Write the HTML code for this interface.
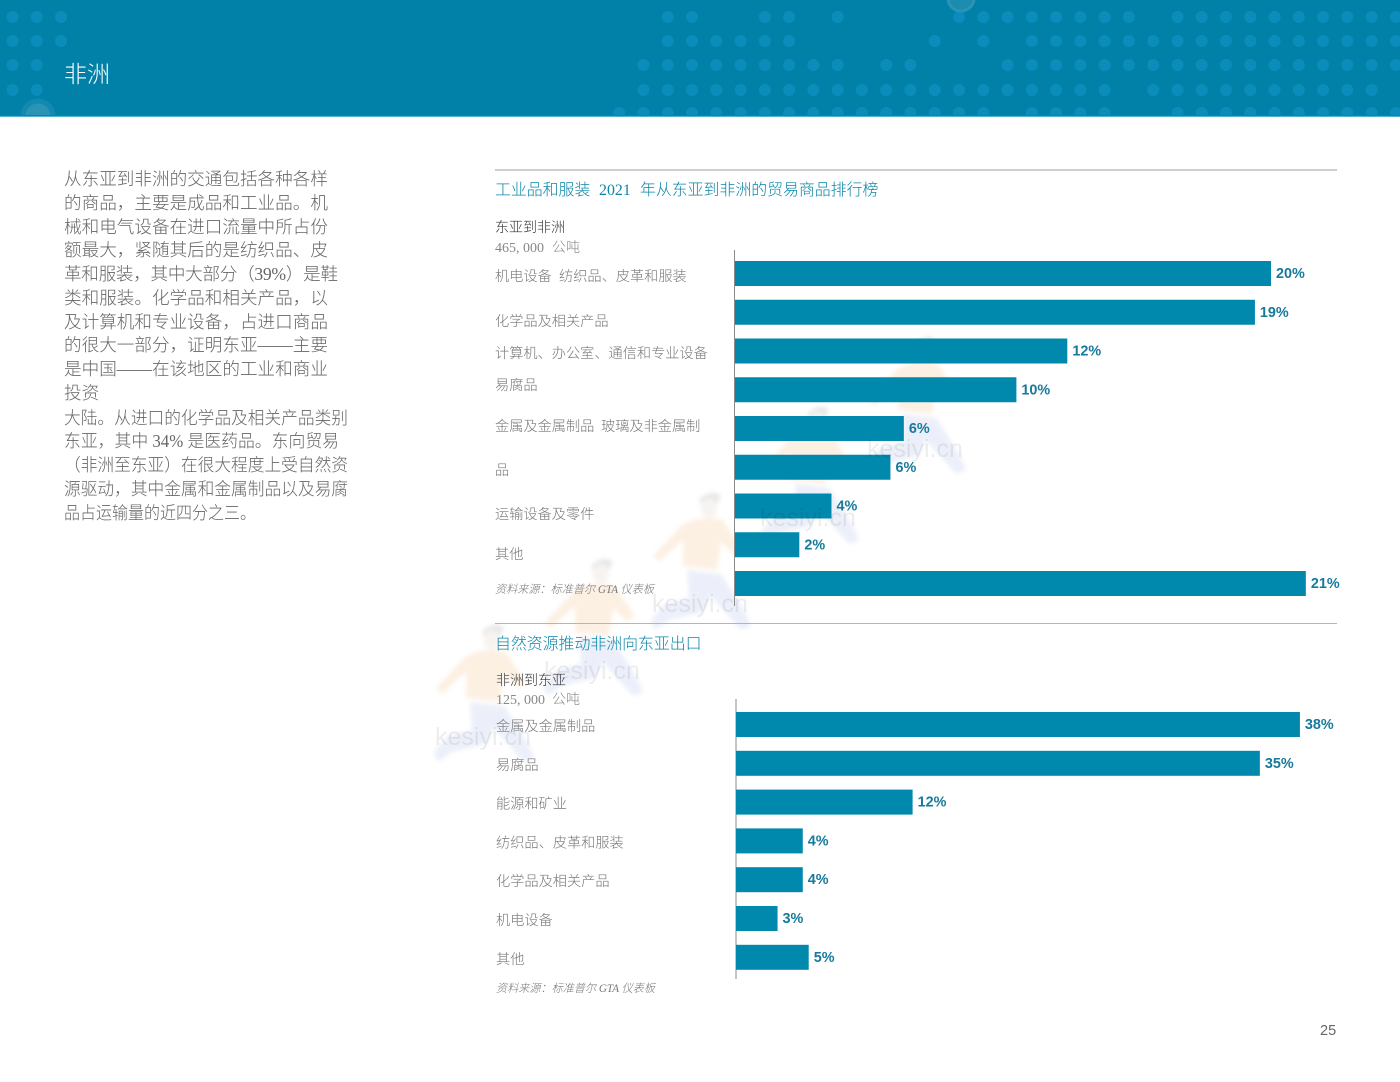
<!DOCTYPE html>
<html lang="zh">
<head>
<meta charset="utf-8">
<title>非洲</title>
<style>
html,body{margin:0;padding:0;background:#fff;}
#page{position:relative;width:1400px;height:1082px;overflow:hidden;background:#fff;}
svg{position:absolute;left:0;top:0;}
text{font-family:"Liberation Serif","Noto Sans CJK SC",sans-serif;font-weight:300;}
.body-line{font-size:17.6px;fill:#666;}
.cat{font-size:14.2px;fill:#777;}
.title{font-size:15.9px;fill:#0a86a8;}
.sub{font-size:14px;fill:#333;}
.unit{font-size:14px;fill:#888;}
.note{font-size:11.4px;fill:#777;font-style:italic;}
.val{font-family:"Liberation Sans",sans-serif;font-weight:700;font-size:14.4px;fill:#17799c;}
.wm{font-family:"Liberation Sans",sans-serif;font-weight:400;font-size:25px;fill:#000;opacity:.07;}
</style>
</head>
<body>
<div id="page">
<svg id="art" width="1400" height="1082" viewBox="0 0 1400 1082" xmlns="http://www.w3.org/2000/svg">
  <defs>
    <filter id="soft" x="-20%" y="-20%" width="140%" height="140%"><feGaussianBlur stdDeviation="2.2"/></filter>
    <clipPath id="header-clip"><rect x="0" y="0" width="1400" height="116"/></clipPath>
    <symbol id="runner" viewBox="0 0 130 150" width="130" height="150" overflow="visible">
      <g filter="url(#soft)">
        <path d="M48 14 q12 -12 22 -4 l-4 8 q-10 0 -12 6 z" fill="#d8d8d8"/>
        <ellipse cx="58" cy="22" rx="8" ry="10" fill="#f2ece6"/>
        <path d="M30 40 q18 -12 42 -6 l20 30 l-8 6 l-14 -14 l-4 28 l-34 -4 l0 -26 l-24 22 l-6 -6 z" fill="#fbe6d0"/>
        <path d="M36 84 l34 4 l24 38 l6 14 l-10 4 l-30 -34 l-8 16 l-34 8 l-14 10 l-4 -10 l14 -16 l24 -6 z" fill="#dfe5f6"/>
      </g>
    </symbol>
  </defs>

  <g opacity=".6">
    <use href="#runner" x="866" y="330"/>
    <use href="#runner" x="759" y="400"/>
    <use href="#runner" x="651" y="486"/>
    <use href="#runner" x="543" y="552"/>
    <use href="#runner" x="434" y="618"/>
  </g>

  <rect x="0" y="0" width="1400" height="116" fill="#0181a8"/>
  <g clip-path="url(#header-clip)">
    <g id="header-dots"></g>
    <circle cx="961" cy="-2" r="13" fill="#1b8bae" stroke="#2b93b3" stroke-width="3"/>
    <circle cx="38" cy="116" r="15" fill="#2b94b4" stroke="#1189b0" stroke-width="5"/>
  </g>
  <rect x="0" y="115" width="1400" height="1" fill="#1d7d9e"/>
  <rect x="0" y="116" width="1400" height="1" fill="#4fb4d6"/>
  <text x="64" y="82" style="font-family:'Liberation Sans','Noto Sans CJK SC',sans-serif;font-size:23px;fill:#fff">非洲</text>

  <g>
    <text class="body-line" x="64" y="185">从东亚到非洲的交通包括各种各样</text>
    <text class="body-line" x="64" y="209">的商品，主要是成品和工业品。机</text>
    <text class="body-line" x="64" y="233">械和电气设备在进口流量中所占份</text>
    <text class="body-line" x="64" y="256">额最大，紧随其后的是纺织品、皮</text>
    <text class="body-line" x="64" y="280" textLength="274" lengthAdjust="spacing">革和服装，其中大部分（39%）是鞋</text>
    <text class="body-line" x="64" y="304">类和服装。化学品和相关产品，以</text>
    <text class="body-line" x="64" y="328">及计算机和专业设备，占进口商品</text>
    <text class="body-line" x="64" y="351">的很大一部分，证明东亚——主要</text>
    <text class="body-line" x="64" y="375">是中国——在该地区的工业和商业</text>
    <text class="body-line" x="64" y="399">投资</text>
    <text class="body-line" x="64" y="424" textLength="284" lengthAdjust="spacingAndGlyphs">大陆。从进口的化学品及相关产品类别</text>
    <text class="body-line" x="64" y="447" textLength="275" lengthAdjust="spacingAndGlyphs">东亚，其中 34% 是医药品。东向贸易</text>
    <text class="body-line" x="64" y="471" textLength="284" lengthAdjust="spacingAndGlyphs">（非洲至东亚）在很大程度上受自然资</text>
    <text class="body-line" x="64" y="495" textLength="284" lengthAdjust="spacingAndGlyphs">源驱动，其中金属和金属制品以及易腐</text>
    <text class="body-line" x="64" y="519" textLength="192" lengthAdjust="spacingAndGlyphs">品占运输量的近四分之三。</text>
  </g>

  <rect x="495" y="169" width="842" height="2" fill="#cfcfcf"/>
  <text class="title" x="495" y="195">工业品和服装<tspan x="599">2021</tspan><tspan x="640">年从东亚到非洲的贸易商品排行榜</tspan></text>
  <text class="sub" x="495" y="232">东亚到非洲</text>
  <text class="unit" x="495" y="252">465, 000<tspan x="552">公吨</tspan></text>
  <g>
    <text class="cat" x="495" y="281">机电设备<tspan x="559">纺织品、皮革和服装</tspan></text>
    <text class="cat" x="495" y="326">化学品及相关产品</text>
    <text class="cat" x="495" y="358">计算机、办公室、通信和专业设备</text>
    <text class="cat" x="495" y="390">易腐品</text>
    <text class="cat" x="495" y="431">金属及金属制品<tspan x="601">玻璃及非金属制</tspan></text>
    <text class="cat" x="495" y="475">品</text>
    <text class="cat" x="495" y="519">运输设备及零件</text>
    <text class="cat" x="495" y="559">其他</text>
  </g>
  <text class="note" x="495" y="593" textLength="159" lengthAdjust="spacingAndGlyphs">资料来源：标准普尔 GTA 仪表板</text>
  <line x1="734.5" y1="250" x2="734.5" y2="606" stroke="#8a8a8a" stroke-width="1"/>
  <g id="chart1"></g>

  <rect x="495" y="623" width="842" height="1" fill="#b5b5b5"/>
  <text class="title" x="495" y="649">自然资源推动非洲向东亚出口</text>
  <text class="sub" x="496" y="685">非洲到东亚</text>
  <text class="unit" x="496" y="704">125, 000<tspan x="552">公吨</tspan></text>
  <text class="note" x="496" y="992" textLength="159" lengthAdjust="spacingAndGlyphs">资料来源：标准普尔 GTA 仪表板</text>
  <line x1="736" y1="699" x2="736" y2="979" stroke="#8a8a8a" stroke-width="1"/>
  <g id="chart2"></g>

  <text x="1320" y="1035" style="font-family:'Liberation Sans',sans-serif;font-size:14.5px;fill:#666;font-weight:400">25</text>

  <g>
    <text class="wm" x="867" y="457">kesiyi.cn</text>
    <text class="wm" x="760" y="526">kesiyi.cn</text>
    <text class="wm" x="652" y="612">kesiyi.cn</text>
    <text class="wm" x="544" y="679">kesiyi.cn</text>
    <text class="wm" x="435" y="745">kesiyi.cn</text>
  </g>
</svg>
</div>
<script>
var chart1Categories = ['机电设备','纺织品、皮革和服装','化学品及相关产品','计算机、办公室、通信和专业设备','易腐品','金属及金属制品','玻璃及非金属制品','运输设备及零件','其他'];
var chart1Values = [20.0, 19.4, 12.4, 10.5, 6.3, 5.8, 3.6, 2.4, 21.3];
var chart1Printed = ['20%','19%','12%','10%','6%','6%','4%','2%','21%'];

var chart2Categories = ['金属及金属制品','易腐品','能源和矿业','纺织品、皮革和服装','化学品及相关产品','机电设备','其他'];
var chart2Values = [38.0, 35.3, 11.9, 4.5, 4.5, 2.8, 4.9];
var chart2Printed = ['38%','35%','12%','4%','4%','3%','5%'];

var dotRows = [
  [0,1,2,27,28,31,32,34,39,40,41,42,43,44,45,46,48,49,50,51,52,53,54,55,56,57],
  [0,1,2,27,28,29,30,31,32,38,40,42,43,44,45,46,47,48,49,50,51,52,53,54,55,56,57],
  [0,1,26,27,28,29,30,31,32,33,34,36,37,41,42,43,44,45,46,47,48,49,50,51,52,53,54,55,56,57],
  [0,1,26,27,28,29,30,31,32,33,34,35,36,37,38,39,40,41,42,43,44,45,47,48,49,50,51,52,53,54,55,56],
  [1,25,26,27,28,29,30,31,32,33,34,35,36,37,38,39,40,42,43,44,45,48,49,50,51,52,53,54,55,56,57]
];
var dotRowCenters = [17, 41, 65, 90, 113];

var NS = 'http://www.w3.org/2000/svg';

var dotLayer = document.getElementById('header-dots');
dotRows.forEach(function (row, r) {
  row.forEach(function (k) {
    var c = document.createElementNS(NS, 'circle');
    c.setAttribute('cx', 12.5 + 24.27 * k);
    c.setAttribute('cy', dotRowCenters[r]);
    c.setAttribute('r', 6);
    c.setAttribute('fill', '#0b8dbb');
    
    
    dotLayer.appendChild(c);
  });
});

function xScale1(v) { return 26.8 * v; }
function yBand1(i) { return 261 + 38.75 * i; }
function xScale2(v) { return 14.84 * v; }
function yBand2(i) { return 712 + 38.8 * i; }

function drawBars(layerId, values, printed, categories, xScale, yBand, x0) {
  var layer = document.getElementById(layerId);
  values.forEach(function (v, i) {
    var w = xScale(v);
    var y = yBand(i);
    var bar = document.createElementNS(NS, 'rect');
    bar.setAttribute('x', x0);
    bar.setAttribute('y', y);
    bar.setAttribute('width', w);
    bar.setAttribute('height', 25);
    bar.setAttribute('fill', '#0088ad');
    bar.setAttribute('data-category', categories[i]);
    
    
    layer.appendChild(bar);
    var t = document.createElementNS(NS, 'text');
    t.setAttribute('class', 'val');
    t.setAttribute('x', x0 + w + 5);
    t.setAttribute('y', y + 17);
    t.textContent = printed[i];
    
    
    layer.appendChild(t);
  });
}

drawBars('chart1', chart1Values, chart1Printed, chart1Categories, xScale1, yBand1, 735);
drawBars('chart2', chart2Values, chart2Printed, chart2Categories, xScale2, yBand2, 736);

var layer2 = document.getElementById('chart2');
chart2Categories.forEach(function (name, i) {
  var t = document.createElementNS(NS, 'text');
  t.setAttribute('class', 'cat');
  t.setAttribute('x', 496);
  t.setAttribute('y', yBand2(i) + 19);
  t.textContent = name;
  
  
  layer2.appendChild(t);
});
</script>
</body>
</html>
